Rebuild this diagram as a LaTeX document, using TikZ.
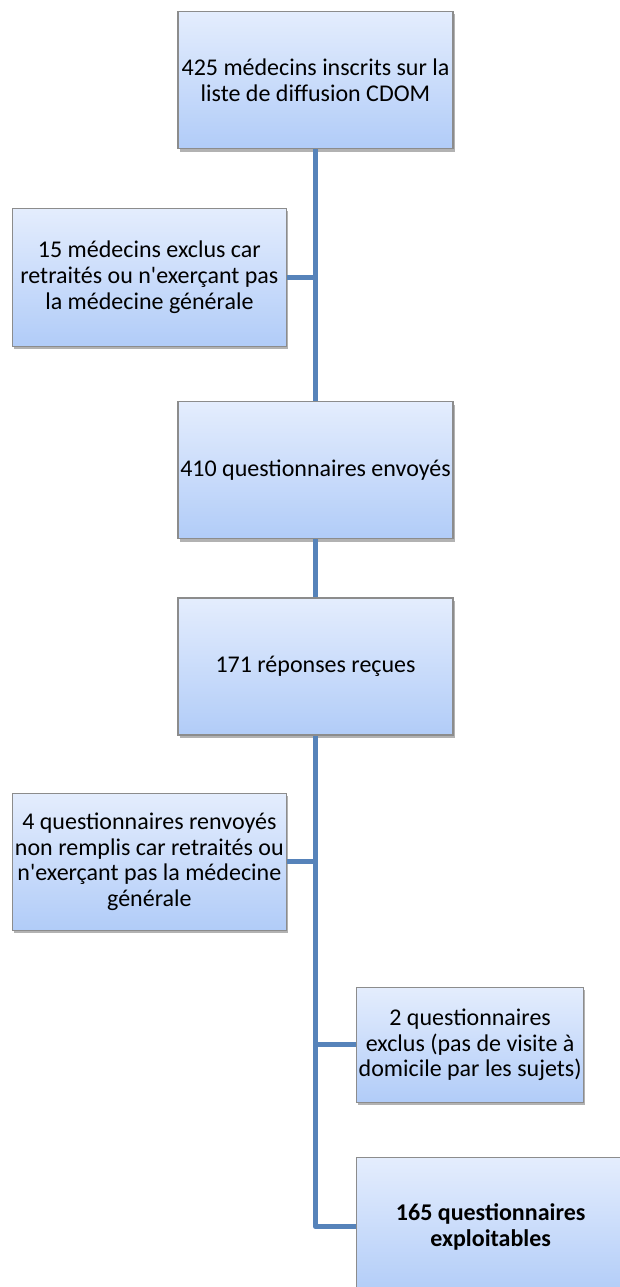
\documentclass[tikz,border=0pt]{standalone}
\usepackage{fontspec}
\setmainfont{Carlito}
\usetikzlibrary{positioning,shadows}

\definecolor{bleuhaut}{HTML}{E4EDFD}
\definecolor{bleubas}{HTML}{B1CCF8}
\definecolor{bordgris}{HTML}{8C8C8C}
\definecolor{bleutrait}{HTML}{5683BA}

\tikzset{
	etape/.style={draw=bordgris, line width=1.3pt, top color=bleuhaut, bottom color=bleubas,
		align=center, inner sep=1pt, font=\fontsize{24}{25.7}\selectfont,
		drop shadow={shadow xshift=1.5pt, shadow yshift=-3pt, opacity=0.3, fill=black}},
	principal/.style={etape, minimum width=275pt, minimum height=137pt},
	gras/.style={font=\fontsize{24}{25.7}\selectfont\bfseries},
	lien/.style={draw=bleutrait, line width=5pt, line join=round}
}

\begin{document}
\begin{tikzpicture}[x=1pt, y=-1pt]

	\path[use as bounding box, fill=white] (0,0) rectangle (619,1287);

	\node (liste) [principal] at (315.5,80) {425 médecins inscrits sur la\\liste de diffusion CDOM};
	\node (envoyes) [principal, below=252pt of liste] {410 questionnaires envoyés};
	\node (reponses) [principal, below=58pt of envoyes] {171 réponses reçues};

	\coordinate [below=128pt of liste.south] (b1);
	\coordinate [below=126pt of reponses.south] (b2);
	\coordinate [below=183pt of b2] (b3);
	\coordinate [below=182pt of b3] (b4);

	\node (exclus) [etape, minimum width=274pt, minimum height=138pt, left=28.5pt of b1]
		{15 médecins exclus car\\retraités ou n\textquotesingle exerçant pas\\la médecine générale};
	\node (renvoyes) [etape, minimum width=274pt, minimum height=137pt, left=28.5pt of b2]
		{4 questionnaires renvoyés\\non remplis car retraités ou\\n\textquotesingle exerçant pas la médecine\\générale};
	\node (exclus2) [etape, minimum width=227pt, minimum height=115pt, right=40.5pt of b3]
		{2 questionnaires\\exclus (pas de visite à\\domicile par les sujets)};
	\node (exploitables) [etape, gras, minimum width=268pt, minimum height=138pt, right=40.5pt of b4]
		{165 questionnaires\\exploitables};

	\draw[lien] (liste) -- (envoyes);
	\draw[lien] (envoyes) -- (reponses);
	\draw[lien] (reponses) |- (exploitables);
	\draw[lien] (b1) -- (exclus);
	\draw[lien] (b2) -- (renvoyes);
	\draw[lien] (b3) -- (exclus2);

\end{tikzpicture}
\end{document}
